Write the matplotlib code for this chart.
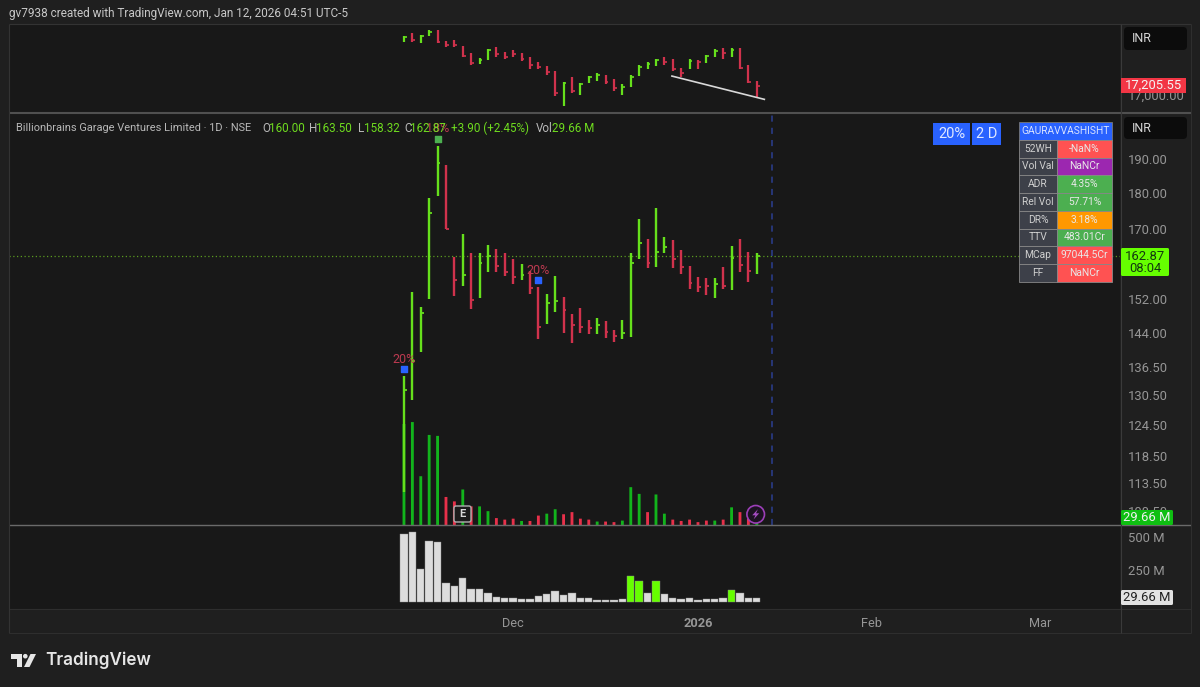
import matplotlib
matplotlib.use("Agg")
import matplotlib.pyplot as plt
from matplotlib.patches import Rectangle, FancyBboxPatch, Circle, Polygon
from matplotlib.ticker import FixedLocator, FixedFormatter, NullLocator

plt.rcParams['font.family'] = ['Roboto', 'DejaVu Sans']

# ---- data -------------------------------------------------------------
bar_count = 43
high = [134.5,153.7,150.1,178.6,194.0,188.2,162.6,168.6,163.6,163.6,165.7,164.6,163.6,162.0,160.7,159.0,155.0,
        153.3,157.7,152.5,148.4,149.9,147.0,147.5,146.8,144.7,147.0,163.6,172.7,167.3,175.7,167.8,167.0,164.4,
        160.2,157.5,157.2,157.2,160.0,165.4,167.3,163.8,163.5]
low = [111.8,129.4,139.7,152.0,179.1,170.0,152.8,155.2,149.6,152.3,158.7,158.7,157.7,155.7,156.7,153.3,142.7,
       146.1,148.9,144.0,141.8,144.0,143.8,143.8,142.9,142.0,142.7,143.1,162.0,159.7,160.0,163.6,159.7,158.2,
       154.5,153.7,153.0,152.3,154.5,154.2,158.7,156.2,158.32]
close = [131.5,137.8,148.7,174.3,188.8,170.0,156.7,158.0,151.8,161.0,162.8,160.2,158.7,157.5,158.0,154.7,145.4,
         151.1,151.5,149.4,145.9,145.4,145.2,145.9,144.3,143.3,144.0,161.0,166.2,161.0,163.8,165.2,162.0,160.0,
         156.0,155.0,155.2,155.7,155.2,162.3,160.5,159.0,162.87]
up_bars = [0,1,2,3,4,7,9,10,14,17,18,23,26,27,28,30,31,37,39,42]
volume = [526,536,254,469,464,146,123,185,97,97,72,36,28,33,21,21,49,59,82,56,67,33,28,18,18,15,23,197,162,67,
          159,59,28,21,28,15,23,23,28,92,67,33,29.66]
vol_highlight = [27,28,30,39]

idx_high = [18360,18406,18376,18482,18482,18239,18254,18117,17950,17836,18049,18102,17973,18026,17950,17874,17760,
            17661,17555,17296,17403,17281,17441,17494,17456,17357,17253,17448,17684,17745,17821,17859,17828,17623,
            17813,17798,17912,18049,18064,18064,18064,17684,17327]
idx_low = [18201,18208,18186,18360,18193,18102,18102,17874,17684,17699,17790,17874,17821,17874,17768,17600,17585,
           17456,16977,16757,17038,16992,17281,17327,17251,17099,16992,17190,17441,17593,17661,17692,17555,17418,
           17593,17600,17722,17874,17828,17866,17585,17266,16947]
idx_close = [18330,18254,18345,18436,18216,18140,18140,17897,17737,17798,18026,17927,17874,17927,17821,17684,17646,
             17532,17053,17266,17099,17251,17410,17464,17304,17152,17175,17418,17646,17707,17790,17745,17593,17494,
             17783,17760,17889,18011,17950,18026,17623,17304,17205.55]
idx_up = [0,2,3,9,10,19,21,22,23,26,27,28,29,30,34,36,37,39]
trend_x = [31.9,42.9]
trend_y = [17433,16901]

price_ticks = [190.0,180.0,170.0,152.0,144.0,136.5,130.5,124.5,118.5,113.5,108.5]
last_price = 162.87
vol_ticks = [250,500]
vol_tick_labels = ["250 M","500 M"]
time_ticks = [13,35,55.7,75.7]
time_labels = ["Dec","2026","Feb","Mar"]
future_line_x = 43.8

marker_x = [0,16]
marker_y = [136.0,156.7]
marker_green_x = 4
marker_green_y = 196.1
marker_texts = ["20%","20%"]

table_labels = ["52WH","Vol Val","ADR","Rel Vol","DR%","TTV","MCap","FF"]
table_values = ["-NaN%","NaNCr","4.35%","57.71%","3.18%","483.01Cr","97044.5Cr","NaNCr"]
table_colors = ["#ff5252","#9c27b0","#4caf50","#4caf50","#ff9800","#4caf50","#ff5252","#ff5252"]

# ---- style ------------------------------------------------------------
W, H = 1200, 687
OUTER = "#1f1f1f"
PANE = "#181818"
GREEN = "#66e01c"
RED = "#d0324c"
AXT = "#969696"

fig = plt.figure(figsize=(12, 6.87), dpi=100, facecolor=OUTER)

def make_ax(x0, y0, x1, y1):
    ax = fig.add_axes([x0/W, 1-y1/H, (x1-x0)/W, (y1-y0)/H], facecolor=PANE)
    for s in ax.spines.values():
        s.set_visible(False)
    ax.set_xlim(-47.02, 85.24)
    return ax

def hlc(ax, hi, lo, cl, ups, up_col, dn_col, lw, tick):
    for i in range(bar_count):
        c = up_col if i in ups else dn_col
        ax.vlines(i, lo[i], hi[i], color=c, lw=lw, zorder=3)
        ax.hlines(cl[i], i, i+tick, color=c, lw=lw*0.75, zorder=3)

x = list(range(bar_count))

# top (index) pane
ax_top = make_ax(9, 25, 1120, 112)
ax_top.set_ylim(16612, 18600)
hlc(ax_top, idx_high, idx_low, idx_close, idx_up, GREEN, RED, 1.6, 0.33)
ax_top.plot(trend_x, trend_y, color="#d8d8d8", lw=1.2, zorder=4)
ax_top.yaxis.tick_right()
ax_top.yaxis.set_major_locator(FixedLocator([17000]))
ax_top.yaxis.set_major_formatter(FixedFormatter(["17,000.00"]))
ax_top.tick_params(axis='y', length=0, labelsize=9.4, labelcolor=AXT, pad=6)
ax_top.xaxis.set_major_locator(NullLocator())

# main pane: volume overlay first
ax_ov = make_ax(9, 114, 1120, 525)
ax_ov.set_ylim(0, 2140)
vol_bars = ax_ov.bar(x, volume, width=0.34, color=["#12b41c" if i in up_bars else "#e8304a" for i in x], zorder=2)
for b in vol_bars:
    b.set_snap(False)
ax_ov.set_xticks([]); ax_ov.set_yticks([])

ax = make_ax(9, 114, 1120, 525)
ax.patch.set_alpha(0)
ax.set_yscale('log')
ax.set_ylim(106.1, 204.1)
hlc(ax, high, low, close, up_bars, GREEN, RED, 1.7, 0.33)
ax.axhline(last_price, color="#5a9a20", lw=0.9, ls=(0, (1, 2)), zorder=1)
ax.axvline(future_line_x, color="#2b3f91", lw=1.1, ls=(0, (4, 4)), zorder=1)
ax.scatter(marker_x, marker_y, marker='s', s=20, color="#2962ff", zorder=5)
ax.scatter([marker_green_x], [marker_green_y], marker='s', s=20, color="#4caf50", zorder=5)
for mx, my, t in zip(marker_x, marker_y, marker_texts):
    ax.annotate(t, (mx, my), xytext=(0, 2.5), textcoords='offset points', ha='center', va='bottom',
                color="#bc3a50", fontsize=9, zorder=6)
ax.annotate("18%", (marker_green_x, marker_green_y), xytext=(0, 3), textcoords='offset points', ha='center',
            va='bottom', color="#bc3a50", fontsize=9, zorder=6)
ax.yaxis.tick_right()
ax.yaxis.set_major_locator(FixedLocator(price_ticks))
ax.yaxis.set_major_formatter(FixedFormatter([f"{p:.2f}" for p in price_ticks]))
ax.yaxis.set_minor_locator(NullLocator())
ax.tick_params(axis='y', which='both', length=0, labelsize=9.4, labelcolor=AXT, pad=6)
ax.xaxis.set_major_locator(NullLocator())
ax.xaxis.set_minor_locator(NullLocator())

# volume pane
ax_v = make_ax(9, 526, 1120, 609)
ax_v.set_ylim(-53.8, 584.6)
ax_v.bar(x, volume, width=0.88, color=["#66ff00" if i in vol_highlight else "#dcdcdc" for i in x],
         edgecolor="#8a8a8a", linewidth=0.3, zorder=2)
ax_v.yaxis.tick_right()
ax_v.yaxis.set_major_locator(FixedLocator(vol_ticks))
ax_v.yaxis.set_major_formatter(FixedFormatter(vol_tick_labels))
ax_v.tick_params(axis='y', length=0, labelsize=9.4, labelcolor=AXT, pad=6)
ax_v.set_xticks(time_ticks)
ax_v.set_xticklabels(time_labels)
ax_v.tick_params(axis='x', length=0, labelsize=9.2, labelcolor=AXT, pad=6)
ax_v.get_xticklabels()[1].set_fontweight('bold')

# ---- overlay in pixel coordinates ---------------------------------------
ov = fig.add_axes([0, 0, 1, 1], facecolor='none', zorder=10)
ov.set_xlim(0, W); ov.set_ylim(H, 0); ov.axis('off')

def box(x0, y0, x1, y1, fc, ec='none', lw=0, z=2):
    ov.add_patch(Rectangle((x0, y0), x1-x0, y1-y0, fc=fc, ec=ec, lw=lw, zorder=z))

def rbox(x0, y0, x1, y1, fc, ec='none', lw=0, r=2, z=2):
    ov.add_patch(FancyBboxPatch((x0+r, y0+r), x1-x0-2*r, y1-y0-2*r, boxstyle=f"round,pad={r},rounding_size={r}",
                                fc=fc, ec=ec, lw=lw, zorder=z))

def txt(px, py, s, c="#cccccc", fs=9.2, ha='left', va='center', w='normal', z=5, fam=None):
    t = ov.text(px, py, s, color=c, fontsize=fs, ha=ha, va=va, fontweight=w, zorder=z)
    if fam:
        t.set_family(fam)

# frame lines
for (a, b, c, d, lw, col) in [(9, 24, 1191, 24, 0.8, "#333333"), (9, 113, 1191, 113, 1.5, "#505050"),
                              (9, 525, 1191, 525, 1.0, "#6a6a6a"), (9, 609, 1191, 609, 0.8, "#2e2e2e"),
                              (9, 633, 1191, 633, 0.8, "#2e2e2e"), (9, 24, 9, 633, 0.8, "#333333"),
                              (1191, 24, 1191, 633, 0.8, "#2e2e2e"), (1120.5, 24, 1120.5, 633, 0.8, "#3a3a3a")]:
    ov.plot([a, c], [b, d], color=col, lw=lw, zorder=1, solid_capstyle='butt')

txt(9, 14, "gv7938 created with TradingView.com, Jan 12, 2026 04:51 UTC-5", "#c8c8c8", 8.5)

# legend line
LG = "#6fdc1f"
LT = "#b8b8b8"
txt(15.5, 128, "Billionbrains Garage Ventures Limited · 1D · NSE", LT, 7.95)
for px, s, c in [(262, "O", LT), (268.5, "160.00", LG), (309, "H", LT), (316, "163.50", LG), (358, "L", LT),
                 (364, "158.32", LG), (404, "C", LT), (410, "162.87", LG), (451, "+3.90 (+2.45%)", LG),
                 (536, "Vol", LT), (552.5, "29.66 M", LG)]:
    txt(px, 128, s, c, 8.4)

# INR buttons
for y0, y1 in [(27, 50), (117, 139)]:
    rbox(1124, y0, 1187, y1, "#0c0c0c", r=4)
    txt(1132, (y0+y1)/2, "INR", "#d4d4d4", 9)

# price labels
box(1121, 78, 1186, 93, "#f23645")
txt(1153.5, 85.5, "17,205.55", "#f4f4f4", 9.4, ha='center')
rbox(1121, 248, 1169, 276, "#66ff00", r=1.5)
txt(1145, 256, "162.87", "#123a10", 9.4, ha='center')
txt(1145, 268, "08:04", "#123a10", 9.4, ha='center')
rbox(1121, 510, 1173, 525, "#0fbf12", r=1.5)
txt(1147, 517.5, "29.66 M", "#f0f0f0", 9.4, ha='center')
rbox(1121, 590, 1173, 605, "#e2e2e2", r=1.5)
txt(1147, 597.5, "29.66 M", "#222222", 9.4, ha='center')

# 20% / 2 D buttons
box(933, 123, 970, 145, "#2962ff")
box(972, 123, 1001, 145, "#2962ff")
txt(951.5, 134, "20%", "#dfe8ff", 10.5, ha='center')
txt(986.5, 134, "2 D", "#dfe8ff", 10.5, ha='center')

# info table
tx0, tx1, tx2 = 1019, 1057, 1112
ty0 = 122
rh = 17.75
box(tx0, ty0, tx2, ty0+rh, "#2962ff", "#777777", 0.6)
txt((tx0+tx2)/2, ty0+rh/2, "GAURAVVASHISHT", "#d8e2ff", 7.4, ha='center')
for i, (l, v, c) in enumerate(zip(table_labels, table_values, table_colors)):
    y = ty0 + rh*(i+1)
    box(tx0, y, tx1, y+rh, "#3d4049", "#888888", 0.6)
    box(tx1, y, tx2, y+rh, c, "#888888", 0.6)
    txt((tx0+tx1)/2, y+rh/2, l, "#cfcfcf", 7.4, ha='center')
    txt((tx1+tx2)/2, y+rh/2, v, "#e8e8e8", 7.4, ha='center')

# earnings badge
rbox(454, 506, 471, 522, "#1c1c1c", "#b0b0b0", 1.0, r=2)
txt(462.5, 514.2, "E", "#d8d8d8", 8, ha='center', w='bold')

# lightning badge
ov.add_patch(Circle((755.7, 514.3), 8.8, fc="#1c1222", ec="#9c3fb8", lw=1.2, zorder=4))
ov.add_patch(Polygon([(757.9, 509.2), (752.2, 515.3), (755.4, 515.3), (753.6, 519.4), (759.2, 513.3), (756.0, 513.3)],
                     closed=True, fc="#a64cc4", ec='none', zorder=5))

# footer logo
LOGO = "#e6e6e6"
ov.add_patch(Polygon([(10.5, 654), (21.5, 654), (21.5, 667), (16.8, 667), (16.8, 658.5), (10.5, 658.5)], closed=True,
                     fc=LOGO, ec='none'))
ov.add_patch(Circle((25.3, 656.2), 2.3, fc=LOGO, ec='none'))
ov.add_patch(Polygon([(30.5, 654), (36, 654), (29.5, 667), (24, 667)], closed=True, fc=LOGO, ec='none'))
txt(45.5, 660.5, "TradingView", LOGO, 12.3, w='semibold', fam=['Inter', 'DejaVu Sans'])

fig.savefig("out.png", dpi=100, facecolor=OUTER)
